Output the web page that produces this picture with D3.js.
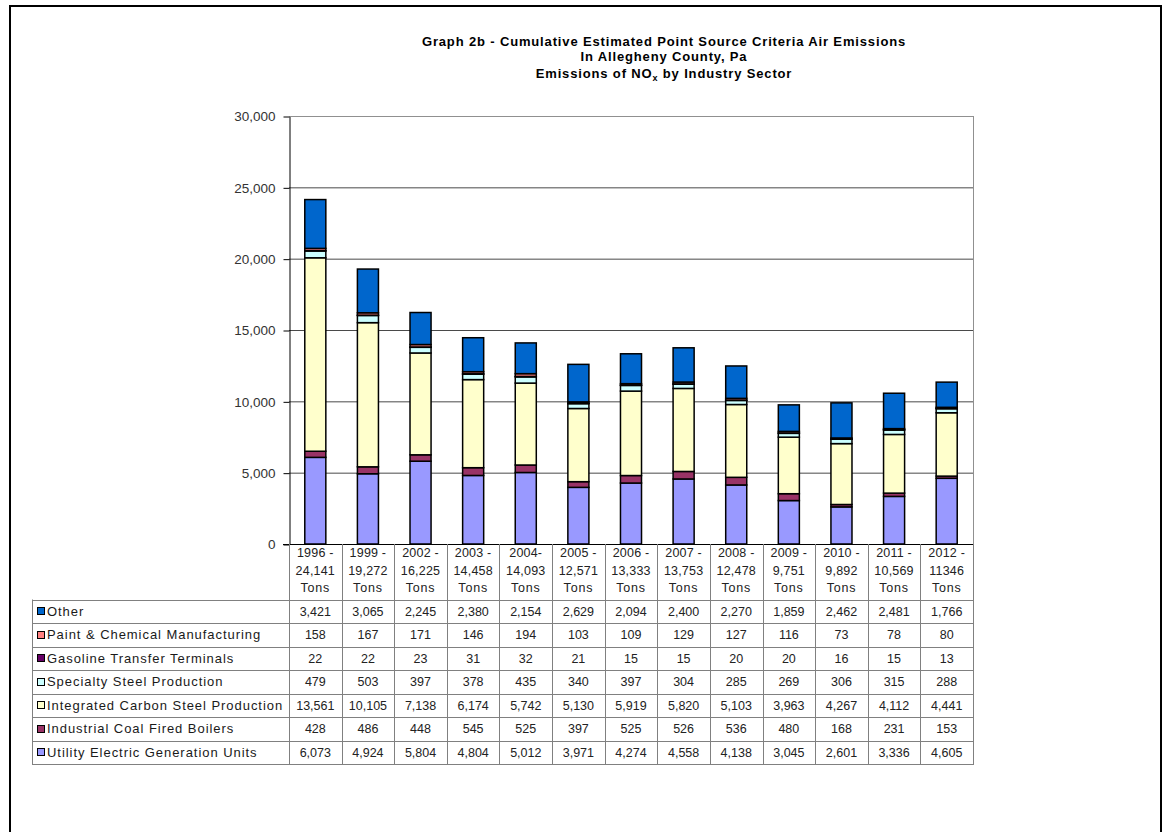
<!DOCTYPE html>
<html><head><meta charset="utf-8">
<script src="https://cdn.jsdelivr.net/npm/d3@7"></script>
<style>
html,body{margin:0;padding:0;background:#fff;}
svg{display:block;}
text{font-family:"Liberation Sans",Arial,sans-serif;}
</style></head>
<body>
<svg id="chart" width="1163" height="832"></svg>
<script>
// ---------- DATA ----------
const categories = ["1996","1999","2002","2003","2004","2005","2006","2007","2008","2009","2010","2011","2012"];
const categoryLabels = [
  ["1996 -","24,141","Tons"],["1999 -","19,272","Tons"],["2002 -","16,225","Tons"],
  ["2003 -","14,458","Tons"],["2004-","14,093","Tons"],["2005 -","12,571","Tons"],
  ["2006 -","13,333","Tons"],["2007 -","13,753","Tons"],["2008 -","12,478","Tons"],
  ["2009 -","9,751","Tons"],["2010 -","9,892","Tons"],["2011 -","10,569","Tons"],
  ["2012 -","11346","Tons"]
];
const seriesNames = ["Utility Electric Generation Units","Industrial Coal Fired Boilers","Integrated Carbon Steel Production","Specialty Steel Production","Gasoline Transfer Terminals","Paint & Chemical Manufacturing","Other"];
const utility     = [6073,4924,5804,4804,5012,3971,4274,4558,4138,3045,2601,3336,4605];
const coalBoilers = [428,486,448,545,525,397,525,526,536,480,168,231,153];
const carbonSteel = [13561,10105,7138,6174,5742,5130,5919,5820,5103,3963,4267,4112,4441];
const specialty   = [479,503,397,378,435,340,397,304,285,269,306,315,288];
const gasoline    = [22,22,23,31,32,21,15,15,20,20,16,15,13];
const paintChem   = [158,167,171,146,194,103,109,129,127,116,73,78,80];
const other       = [3421,3065,2245,2380,2154,2629,2094,2400,2270,1859,2462,2481,1766];
const yTicks = [0,5000,10000,15000,20000,25000,30000];
const titleLines = ["Graph 2b - Cumulative Estimated Point Source Criteria Air Emissions","In Allegheny County, Pa"];

const seriesValues = [utility,coalBoilers,carbonSteel,specialty,gasoline,paintChem,other];
const colors = ["#9999FF","#993366","#FFFFCC","#CCFFFF","#660066","#FF8080","#0066CC"];

// ---------- LAYOUT ----------
const svg = d3.select("#chart");
const plotL = 289, plotR = 973, plotT = 116, plotB = 544;
const tableL = 32, tableTop = 599.5, rowH = 23.5;

// outer frame
svg.append("rect").attr("x",10).attr("y",6).attr("width",1151).attr("height",840)
  .attr("fill","none").attr("stroke","#000").attr("stroke-width",2);

// title
const title = svg.append("text").attr("text-anchor","middle").attr("font-weight","bold")
  .attr("font-size",13).attr("letter-spacing",0.85).attr("fill","#000");
title.append("tspan").attr("x",664).attr("y",46).text(titleLines[0]);
title.append("tspan").attr("x",664).attr("y",61).text(titleLines[1]);
const t3 = title.append("tspan").attr("x",664).attr("y",78);
t3.append("tspan").text("Emissions of NO");
t3.append("tspan").attr("font-size",9).attr("dy",3).text("x");
t3.append("tspan").attr("dy",-3).text(" by Industry Sector");

// scales
const x = d3.scaleBand().domain(categories).range([plotL,plotR]).paddingInner(0.6).paddingOuter(0.3);
const y = d3.scaleLinear().domain([0,30000]).range([plotB,plotT]);

// gridlines
svg.append("g").selectAll("line").data(yTicks.filter(d=>d>0)).join("line")
  .attr("x1",plotL).attr("x2",plotR).attr("y1",d=>y(d)+0.5).attr("y2",d=>y(d)+0.5)
  .attr("stroke",d=> d===30000?"#909090":"#4a4a4a").attr("stroke-width",1);
// right border of plot
svg.append("line").attr("x1",plotR+0.5).attr("x2",plotR+0.5).attr("y1",plotT).attr("y2",plotB)
  .attr("stroke","#909090");

// y axis
const yAxis = d3.axisLeft(y).tickValues(yTicks).tickFormat(d3.format(",")).tickSize(6).tickSizeOuter(0);
const ya = svg.append("g").attr("transform",`translate(${plotL+0.5},0.5)`).call(yAxis);
ya.select(".domain").attr("stroke","#000");
ya.selectAll(".tick line").attr("stroke","#000");
ya.selectAll(".tick text").attr("font-size",13.5).attr("fill","#333").attr("x",-14)
  .attr("font-family","'Liberation Sans',Arial,sans-serif");

// stacked bars
const rows = categories.map((c,i)=>{const o={cat:c}; seriesNames.forEach((s,k)=>o[s]=seriesValues[k][i]); return o;});
const stack = d3.stack().keys(seriesNames)(rows);
svg.append("g").selectAll("g").data(stack).join("g")
  .attr("fill",(d,i)=>colors[i])
  .selectAll("rect").data(d=>d).join("rect")
  .attr("x",d=>x(d.data.cat)).attr("width",x.bandwidth())
  .attr("y",d=>y(d[1])).attr("height",d=>y(d[0])-y(d[1]))
  .attr("stroke","#000").attr("stroke-width",1.5);

// x axis baseline
svg.append("line").attr("x1",plotL-6).attr("x2",plotR).attr("y1",plotB+0.5).attr("y2",plotB+0.5)
  .attr("stroke","#000");

// ---------- DATA TABLE ----------
const step = x.step();
const colEdges = categories.map((c,i)=>plotL + i*step).concat([plotR]);
const tableRowsOrder = [6,5,4,3,2,1,0];
const tableBottom = tableTop + rowH*tableRowsOrder.length;
const tg = svg.append("g");
tg.selectAll("line.v").data(colEdges).join("line").attr("class","v")
  .attr("x1",d=>Math.round(d)+0.5).attr("x2",d=>Math.round(d)+0.5)
  .attr("y1",plotB).attr("y2",tableBottom).attr("stroke","#808080");
tg.append("line").attr("x1",tableL+0.5).attr("x2",tableL+0.5).attr("y1",tableTop).attr("y2",tableBottom).attr("stroke","#808080");
d3.range(tableRowsOrder.length+1).forEach(r=>{
  tg.append("line").attr("x1",tableL).attr("x2",plotR+1)
    .attr("y1",Math.round(tableTop+r*rowH)+0.5).attr("y2",Math.round(tableTop+r*rowH)+0.5)
    .attr("stroke","#808080");
});
categories.forEach((c,i)=>{
  const cx = x(c)+x.bandwidth()/2;
  categoryLabels[i].forEach((ln,j)=>{
    tg.append("text").attr("x",cx).attr("y",557+j*17.5).attr("text-anchor","middle")
      .attr("font-size",12.5).attr("letter-spacing",j===2?0.8:0.2).attr("fill","#222").text(ln);
  });
});
const fmt = d3.format(",");
tableRowsOrder.forEach((k,r)=>{
  const cy = tableTop + r*rowH + rowH/2;
  tg.append("rect").attr("x",37.5).attr("y",Math.round(cy-4)+0.5).attr("width",7).attr("height",7)
    .attr("fill",colors[k]).attr("stroke","#000").attr("stroke-width",1);
  tg.append("text").attr("x",47).attr("y",cy+4.5).attr("font-size",13).attr("letter-spacing",0.95)
    .attr("fill","#1a1a1a").text(seriesNames[k]);
  categories.forEach((c,i)=>{
    tg.append("text").attr("x",x(c)+x.bandwidth()/2).attr("y",cy+4.5).attr("text-anchor","middle")
      .attr("font-size",12.5).attr("fill","#222").text(fmt(seriesValues[k][i]));
  });
});
</script>
</body></html>
